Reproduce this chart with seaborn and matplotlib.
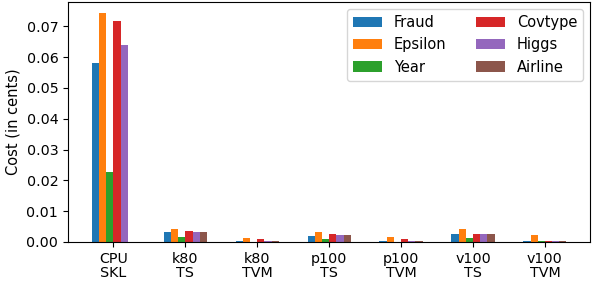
import pandas as pd
import numpy as np
import matplotlib
matplotlib.use('Agg')
import matplotlib.pyplot as plt
import seaborn as sns

configs = ['CPU\nSKL', 'k80\nTS', 'k80\nTVM', 'p100\nTS', 'p100\nTVM', 'v100\nTS', 'v100\nTVM']
datasets = ['Fraud', 'Epsilon', 'Year', 'Covtype', 'Higgs', 'Airline']

fraud = [0.0580, 0.0033, 0.0004, 0.0020, 0.0004, 0.0027, 0.0004]
epsilon = [0.0742, 0.0043, 0.0014, 0.0033, 0.0017, 0.0043, 0.0024]
year = [0.0227, 0.0017, 0.0001, 0.0011, 0.0001, 0.0014, 0.0003]
covtype = [0.0716, 0.0037, 0.0008, 0.0027, 0.0008, 0.0027, 0.0003]
higgs = [0.0638, 0.0033, 0.0004, 0.0024, 0.0004, 0.0027, 0.0003]
airline = [0.0, 0.0033, 0.0004, 0.0024, 0.0004, 0.0027, 0.0003]

series = [fraud, epsilon, year, covtype, higgs, airline]
rows = []
for name, vals in zip(datasets, series):
    for c, v in zip(configs, vals):
        rows.append({'config': c, 'dataset': name, 'cost': v})
df = pd.DataFrame(rows)

plt.rcParams['font.family'] = ['DejaVu Sans']
fig, ax = plt.subplots(figsize=(5.92, 2.81), dpi=100)
sns.barplot(data=df, x='config', y='cost', hue='dataset', order=configs,
            hue_order=datasets, palette='tab10', saturation=1, width=0.6,
            errorbar=None, ax=ax)

ax.set_xlim(-0.63, len(configs) - 1 + 0.63)
ax.set_ylim(0, max(epsilon) * 1.05)
ax.set_xlabel('')
ax.set_ylabel('Cost (in cents)', fontsize=10.5)
ax.tick_params(labelsize=10.3)
ax.set_yticks(np.arange(0, 0.08, 0.01))
for lbl in ax.get_xticklabels():
    lbl.set_linespacing(1.05)
ax.legend(ncol=2, loc='upper right', fontsize=10.5, title=None)

fig.subplots_adjust(left=0.115, right=0.997, top=0.993, bottom=0.139)
fig.savefig('out.png', dpi=100)
